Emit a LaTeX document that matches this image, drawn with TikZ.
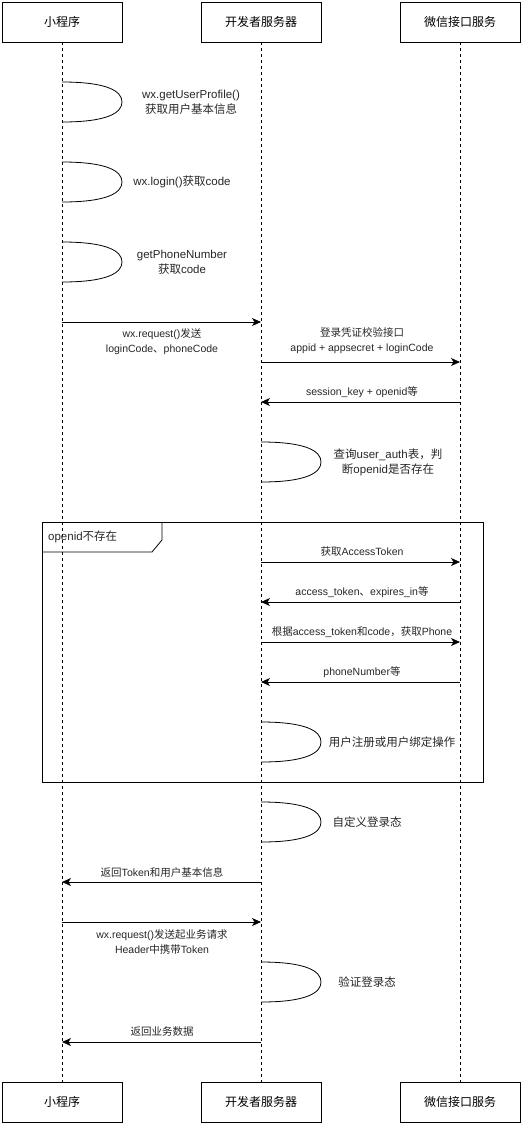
\documentclass[tikz,border=0pt]{standalone}
\usepackage{fontspec}
\setmainfont{Liberation Sans}
\newfontfamily\cjkfont{Noto Sans CJK SC}
\XeTeXinterchartokenstate=1
\newXeTeXintercharclass\cjkclass
\count255="4E00
\loop\XeTeXcharclass\count255=\cjkclass\ifnum\count255<"9FFF\advance\count255 1\repeat
\XeTeXcharclass"3001=\cjkclass
\XeTeXcharclass"FF0C=\cjkclass
\XeTeXinterchartoks 0 \cjkclass = {\begingroup\cjkfont}
\XeTeXinterchartoks 4095 \cjkclass = {\begingroup\cjkfont}
\XeTeXinterchartoks \cjkclass 0 = {\endgroup}
\XeTeXinterchartoks \cjkclass 4095 = {\endgroup}
\usetikzlibrary{arrows.meta}
\tikzset{
  actor/.style={draw, line width=0.8pt, minimum width=120pt, minimum height=40pt, inner sep=0pt, font=\fontsize{12}{14}\selectfont},
  lifeline/.style={draw, line width=0.7pt, dash pattern=on 3pt off 3pt},
  msg/.style={draw, line width=0.8pt, -{Stealth[length=9pt,width=8pt,inset=2.5pt]}},
  selfloop/.style={draw, line width=0.8pt},
  lbl/.style={font=\fontsize{10.5}{15}\selectfont, align=center, inner sep=0pt, text=black!85},
  looplbl/.style={font=\fontsize{11.5}{15}\selectfont, align=center, inner sep=0pt, text=black!85},
  frame/.style={draw, line width=0.8pt}
}
\begin{document}
\begin{tikzpicture}[x=1pt,y=-1pt]
\useasboundingbox (0,0) rectangle (525,1125);
% actors
\node[actor] (a1) at (62,22) {小程序};
\node[actor] (b1) at (261,22) {开发者服务器};
\node[actor] (c1) at (460,22) {微信接口服务};
\node[actor] (a2) at (62,1102) {小程序};
\node[actor] (b2) at (261,1102) {开发者服务器};
\node[actor] (c2) at (460,1102) {微信接口服务};
% lifelines
\draw[lifeline] (a1.south) -- (a2.north);
\draw[lifeline] (b1.south) -- (b2.north);
\draw[lifeline] (c1.south) -- (c2.north);
% frame
\draw[frame] (42,522) rectangle (483,782);
\draw[frame] (42,552) -- (152,552) -- (162,540) -- (162,522);
\node[looplbl, anchor=west] (fl) at (48,537) {openid不存在};
% self loops
\foreach \x/\y/\n in {62/82/l1, 62/162/l2, 62/242/l3, 261/442/l4, 261/722/l5, 261/802/l6, 261/962/l7}{
  \coordinate (\n s) at (\x,\y);
  \coordinate (\n m) at (\x+60,\y+20);
  \coordinate (\n e) at (\x,\y+40);
  \draw[selfloop] (\n s) .. controls ([xshift=45pt]\n s) and ([yshift=11pt]\n m) .. (\n m)
     .. controls ([yshift=-11pt]\n m) and ([xshift=45pt]\n e) .. (\n e);
}
\node[looplbl] (t1) at (191,102) {wx.getUserProfile()\\获取用户基本信息};
\node[looplbl] (t2) at (182,182) {wx.login()获取code};
\node[looplbl] (t3) at (182,262) {getPhoneNumber\\获取code};
\node[looplbl] (t4) at (388,462) {查询user\_auth表，判\\断openid是否存在};
\node[looplbl] (t5) at (392,742) {用户注册或用户绑定操作};
\node[looplbl] (t6) at (367,822) {自定义登录态};
\node[looplbl] (t7) at (367,982) {验证登录态};
% message coordinates
\foreach \n/\y in {m1/322, m2/362, m3/402, m4/562, m5/602, m6/642, m7/682, m8/882, m9/922, m10/1042}{
  \coordinate (\n a) at (62,\y);
  \coordinate (\n b) at (261,\y);
  \coordinate (\n c) at (460,\y);
}
\draw[msg] (m1a) -- (m1b);
\node[lbl] (k1) at (162,342) {wx.request()发送\\loginCode、phoneCode};
\draw[msg] (m2b) -- (m2c);
\node[lbl] (k2) at (362,341) {登录凭证校验接口\\appid + appsecret + loginCode};
\draw[msg] (m3c) -- (m3b);
\node[lbl] (k3) at (362,392) {session\_key + openid等};
\draw[msg] (m4b) -- (m4c);
\node[lbl] (k4) at (362,552) {获取AccessToken};
\draw[msg] (m5c) -- (m5b);
\node[lbl] (k5) at (362,592) {access\_token、expires\_in等};
\draw[msg] (m6b) -- (m6c);
\node[lbl] (k6) at (362,632) {根据access\_token和code，获取Phone};
\draw[msg] (m7c) -- (m7b);
\node[lbl] (k7) at (362,672) {phoneNumber等};
\draw[msg] (m8b) -- (m8a);
\node[lbl] (k8) at (162,872) {返回Token和用户基本信息};
\draw[msg] (m9a) -- (m9b);
\node[lbl] (k9) at (162,942) {wx.request()发送起业务请求\\Header中携带Token};
\draw[msg] (m10b) -- (m10a);
\node[lbl] (k10) at (162,1032) {返回业务数据};
\end{tikzpicture}
\end{document}
